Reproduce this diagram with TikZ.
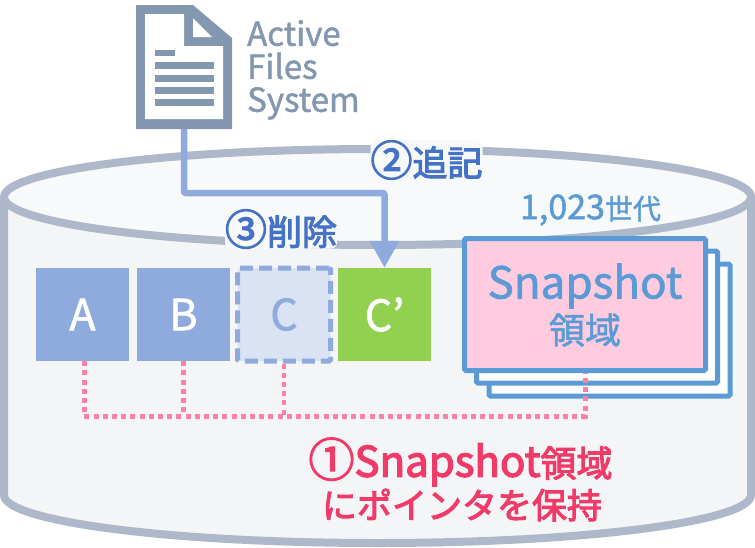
\documentclass[tikz,border=0pt]{standalone}
\usepackage{fontspec}
\setmainfont[FakeBold=1.5]{Noto Sans CJK JP}
\newfontfamily\notefont[FakeBold=3]{Noto Sans CJK JP}
\usetikzlibrary{arrows.meta}

\definecolor{diskline}{HTML}{ADB9CA}
\definecolor{diskbody}{HTML}{F4F5F7}
\definecolor{disktop}{HTML}{F8F9FB}
\definecolor{docblue}{HTML}{8497B0}
\definecolor{softblue}{HTML}{8FAADC}
\definecolor{paleblue}{HTML}{DAE3F3}
\definecolor{leafgreen}{HTML}{92D050}
\definecolor{snapblue}{HTML}{5B9BD5}
\definecolor{snappink}{HTML}{FFCCDF}
\definecolor{stepblue}{HTML}{4472C4}
\definecolor{pointerpink}{HTML}{FF7FAB}
\definecolor{notered}{HTML}{F03A68}

\newcommand{\fsize}[1]{\fontsize{#1}{#1}\selectfont}

\tikzset{
	block/.style = {minimum width = 93pt, minimum height = 93pt, inner sep = 0pt, text = white, font = \fsize{43}},
	snapsheet/.style = {draw = snapblue, line width = 5pt, rounded corners = 1.5pt, fill = white, minimum width = 241pt, minimum height = 132pt, inner sep = 0pt},
	pointer/.style = {draw = pointerpink, line width = 5pt, dash pattern = on 5pt off 4.2pt},
	steplabel/.style = {text = stepblue, fill = disktop, font = \notefont\fsize{35}, inner sep = 0pt, rounded corners = 6pt}
}

\begin{document}
\begin{tikzpicture}[x = 1pt, y = -1pt]
	\useasboundingbox (0, 0) rectangle (755, 547);
	
	\def\diskrx{373.5}
	\def\diskry{48}
	
	\draw [diskline, fill = diskbody, line width = 8pt] (4, 197) -- (4, 495)
		arc [start angle = 180, end angle = 0, x radius = \diskrx, y radius = \diskry]
		-- (751, 197);
	\draw [diskline, fill = disktop, line width = 8pt] (377.5, 197) ellipse [x radius = \diskrx, y radius = \diskry];
	
	\fill [docblue] (136, 5) -- (193, 5) -- (232, 38) -- (232, 129) -- (136, 129) -- cycle;
	\fill [white] (145, 14) -- (184, 14) -- (184, 46) -- (223, 46) -- (223, 119) -- (145, 119) -- cycle;
	\fill [white] (193, 18) -- (212, 37) -- (193, 37) -- cycle;
	\fill [docblue] (155, 50) rectangle (175, 56);
	\foreach \liney in {62, 75, 87, 99} {
		\fill [docblue] (155, \liney) rectangle (214, \liney + 7);
	}
	\coordinate (doc bottom) at (184, 129);
	\node [anchor = north west, align = left, text = docblue, font = \fontsize{33}{33}\selectfont, inner sep = 0pt] (doc label) at (247, 20) {Active\\Files\\System};
	
	\node [block, fill = softblue] (box a) at (82.5, 314.5) {A};
	\node [block, fill = softblue] (box b) at (183.5, 314.5) {B};
	\node [block, fill = paleblue, draw = softblue, line width = 5pt, dash pattern = on 13pt off 6pt, rounded corners = 1.5pt, text = softblue] (box c) at (284, 314.5) {C};
	\node [block, fill = leafgreen] (box c new) at (384.5, 314.5) {C’};
	
	\node [snapsheet] (snap back) at (609.5, 330) {};
	\node [snapsheet] (snap mid) at (597, 317) {};
	
	\coordinate (elbow doc) at (184, 193);
	\coordinate (elbow new) at (box c new.north |- elbow doc);
	\draw [softblue, line width = 6.5pt, rounded corners = 2pt, -{Triangle[length = 27pt, width = 28pt]}] (doc bottom) -- (elbow doc) -- (elbow new) -- (box c new.north);
	
	\coordinate (pointer a) at (84, 416);
	\coordinate (pointer b) at (183.5, 416);
	\coordinate (pointer c) at (284, 416);
	\coordinate (pointer snap) at (585, 416);
	\coordinate (pointer snap top) at (585, 373);
	\draw [pointer] (pointer a |- box a.south) -- (pointer a) -- (pointer snap) -- (pointer snap top);
	\draw [pointer, line width = 4.5pt] (box b.south) -- (pointer b);
	\draw [pointer, line width = 4.5pt] (box c.south) -- (pointer c);
	
	\node [snapsheet, fill = snappink, text = snapblue, align = center] (snap front) at (585, 304.5) {};
	\node [text = snapblue, font = \fsize{44}, inner sep = 0pt] (snap title) at (585, 286) {Snapshot};
	\node [text = snapblue, font = \fsize{36}, inner sep = 0pt] (snap area) at (585, 330) {領域};
	\node [text = snapblue, font = \fsize{34}, inner sep = 0pt] (snap count) at (590.5, 210) {1,023{\fsize{28}世代}};
	
	\node [steplabel] (step add) at (426.5, 160) {{\fsize{42}②}追記};
	\node [steplabel] (step del) at (281, 229) {{\fsize{42}③}削除};
	
	\node [text = notered, font = \notefont\fsize{36}, inner sep = 0pt] (note top) at (460.5, 462) {{\fsize{46}①}{\fsize{42}Snapshot}領域};
	\node [text = notered, font = \notefont\fsize{35}, inner sep = 0pt] (note bottom) at (462, 505) {にポインタを保持};
\end{tikzpicture}
\end{document}
